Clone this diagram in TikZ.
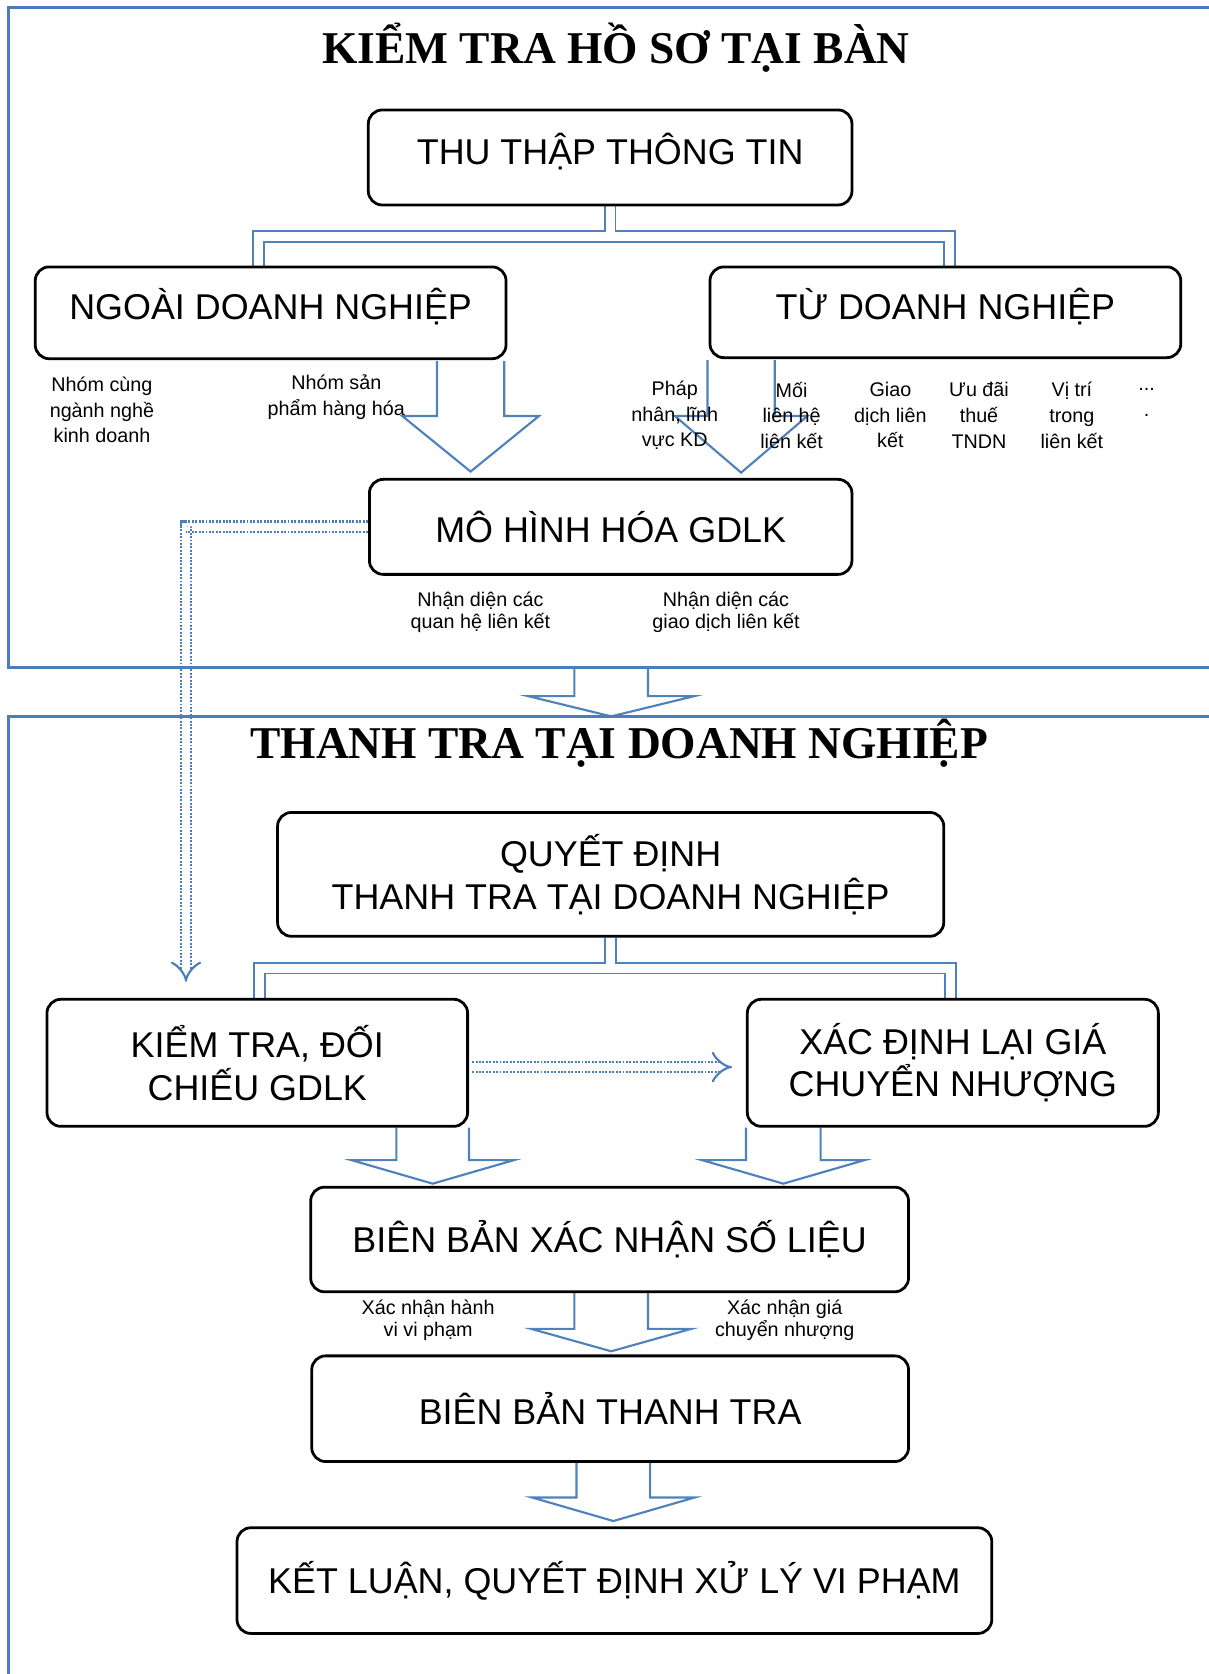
\documentclass[tikz,border=0pt]{standalone}
\usepackage{fontspec}
\setmainfont{Liberation Serif}
\setsansfont{Liberation Sans}
\usetikzlibrary{arrows.meta,calc,backgrounds}
\definecolor{frameblue}{RGB}{74,126,187}
\definecolor{arrowblue}{RGB}{79,129,189}
% hollow block arrow: [style](start)(target)(shaft:head:headlength:gap)
\def\blockarrow[#1](#2)(#3)(#4:#5:#6:#7){\draw[#1] let \p1=(#2), \p2=(#3) in (\x1-#4pt,\y1) -- (\x1-#4pt,\y2+#7pt+#6pt) -- (\x1-#5pt,\y2+#7pt+#6pt) -- (\x1,\y2+#7pt) -- (\x1+#5pt,\y2+#7pt+#6pt) -- (\x1+#4pt,\y2+#7pt+#6pt) -- (\x1+#4pt,\y1);}

\begin{document}
\begin{tikzpicture}[x=1pt,y=-1pt,
	box/.style={draw=black, line width=2.6pt, rounded corners=13pt, fill=white, align=center, inner sep=0pt, font=\sffamily\fontsize{33.6}{40}\selectfont},
	raised/.style={text depth=16pt},
	title/.style={font=\bfseries\fontsize{42.6}{50}\selectfont},
	note/.style={align=center, inner sep=0pt, font=\sffamily\fontsize{18.5}{24}\selectfont},
	notetight/.style={note, font=\sffamily\fontsize{18.5}{21}\selectfont},
	frame/.style={draw=frameblue, line width=3pt},
	blockarr/.style={draw=arrowblue, line width=2pt},
	pipe/.style={draw=arrowblue, double=white, line width=1.6pt, double distance=8.5pt},
	dotarrow/.style={draw=frameblue, double=white, line width=2pt, double distance=8pt, dash pattern=on 1.8pt off 1.4pt, -{Implies}}]
			%%%%% START %%%%%
			\useasboundingbox (0,0) rectangle (1132,1568);
			
			\draw[frame] (1132,7) -- (8,7) -- (8,625.5) -- (1132,625.5);
			\draw[frame] (1132,671) -- (8,671) -- (8,1568);
			\coordinate (sec1) at (572.5,626.5);
			\coordinate (sec2) at (572.5,671);
			
			% kiem tra ho so tai ban
			\node[title] (t1) at (577,45) {KIỂM TRA HỒ SƠ TẠI BÀN};
			\node[box, raised, minimum width=453pt, minimum height=89pt] (thu) at (571.5,147.5) {THU THẬP THÔNG TIN};
			\node[box, raised, minimum width=441pt, minimum height=86pt] (ngoai) at (253.5,293) {NGOÀI DOANH NGHIỆP};
			\node[box, raised, minimum width=441pt, minimum height=85pt] (tu) at (885.5,292.5) {TỪ DOANH NGHIỆP};
			\node[box, minimum width=452pt, minimum height=89pt] (mohinh) at (572,493.5) {MÔ HÌNH HÓA GDLK};
			
			\node[note] (nganh) at (95.5,384) {Nhóm cùng\\ngành nghề\\kinh doanh};
			\node[note] (sanpham) at (315,372) {Nhóm sản\\phẩm hàng hóa};
			\node[note] (phapnhan) at (632,389) {Pháp\\nhân, lĩnh\\vực KD};
			\node[note] (moilienhe) at (741.5,389) {Mối\\liên hệ\\liên kết};
			\node[note] (giaodich) at (834,389) {Giao\\dịch liên\\kết};
			\node[note] (uudai) at (917,389) {Ưu đãi\\thuế\\TNDN};
			\node[note] (vitri) at (1004,389) {Vị trí\\trong\\liên kết};
			\node[note] (khac) at (1074,377) {...\\.};
			\node[notetight] (quanhe) at (450,573.5) {Nhận diện các\\quan hệ liên kết};
			\node[notetight] (gdlk) at (680,573.5) {Nhận diện các\\giao dịch liên kết};
			
			% thanh tra tai doanh nghiep
			\node[title] (t2) at (580,696) {THANH TRA TẠI DOANH NGHIỆP};
			\node[box, minimum width=624pt, minimum height=116pt] (quyetdinh) at (572,819) {QUYẾT ĐỊNH\\THANH TRA TẠI DOANH NGHIỆP};
			\node[box, minimum width=394pt, minimum height=119pt] (kiemtra) at (241,995.5) {KIỂM TRA, ĐỐI\\CHIẾU GDLK};
			\node[box, minimum width=385pt, minimum height=119pt] (xacdinh) at (892.5,995.5) {XÁC ĐỊNH LẠI GIÁ\\CHUYỂN NHƯỢNG};
			\node[box, minimum width=560pt, minimum height=98pt] (bbxn) at (571,1161) {BIÊN BẢN XÁC NHẬN SỐ LIỆU};
			\node[box, minimum width=559pt, minimum height=99pt] (bbtt) at (571.5,1319.5) {BIÊN BẢN THANH TRA};
			\node[box, minimum width=707pt, minimum height=99pt] (ketluan) at (575.5,1480.5) {KẾT LUẬN, QUYẾT ĐỊNH XỬ LÝ VI PHẠM};
			
			\node[notetight] (hanhvi) at (401,1236.5) {Xác nhận hành\\vi vi phạm};
			\node[notetight] (gia) at (735,1236.5) {Xác nhận giá\\chuyển nhượng};
			
			\begin{scope}[on background layer]
			\draw[pipe] (thu.south) -- ++(0,28) coordinate (fork1) -| ([xshift=-11.5pt]ngoai.north)
				(fork1) -| ([xshift=4pt]tu.north);
			\draw[pipe] (quyetdinh.south) -- ++(0,28.5) coordinate (fork2) -| ([xshift=2pt]kiemtra.north)
				(fork2) -| ([xshift=-2pt]xacdinh.north);
			
			\blockarrow[blockarr]([xshift=-34.5pt,yshift=-1pt]ngoai.south east)(mohinh.north)(31.5:64:52:6);
			\blockarrow[blockarr]([xshift=30.5pt,yshift=-1pt]tu.south west)(mohinh.north)(31.5:62:53:5);
			\blockarrow[blockarr](sec1)(sec2)(34.5:78:19:0);
			\blockarrow[blockarr]([xshift=-34pt]kiemtra.south east)(bbxn.north)(34:76:22:2);
			\blockarrow[blockarr]([xshift=35pt]xacdinh.south west)(bbxn.north)(35:76:22:2);
			\blockarrow[blockarr]([xshift=1.5pt]bbxn.south)(bbtt.north)(34.5:75:21:3);
			\blockarrow[blockarr]([xshift=3pt]bbtt.south)(ketluan.north)(34.5:76:22:5);
			
			\draw[dotarrow] (mohinh.west) -| ([xshift=131.5pt,yshift=15pt]kiemtra.north west);
			\draw[dotarrow] ([xshift=3pt,yshift=-4pt]kiemtra.east) -- ([xshift=-13pt,yshift=-4pt]xacdinh.west);
			\end{scope}
			%%%%% END %%%%%
\end{tikzpicture}
\end{document}
